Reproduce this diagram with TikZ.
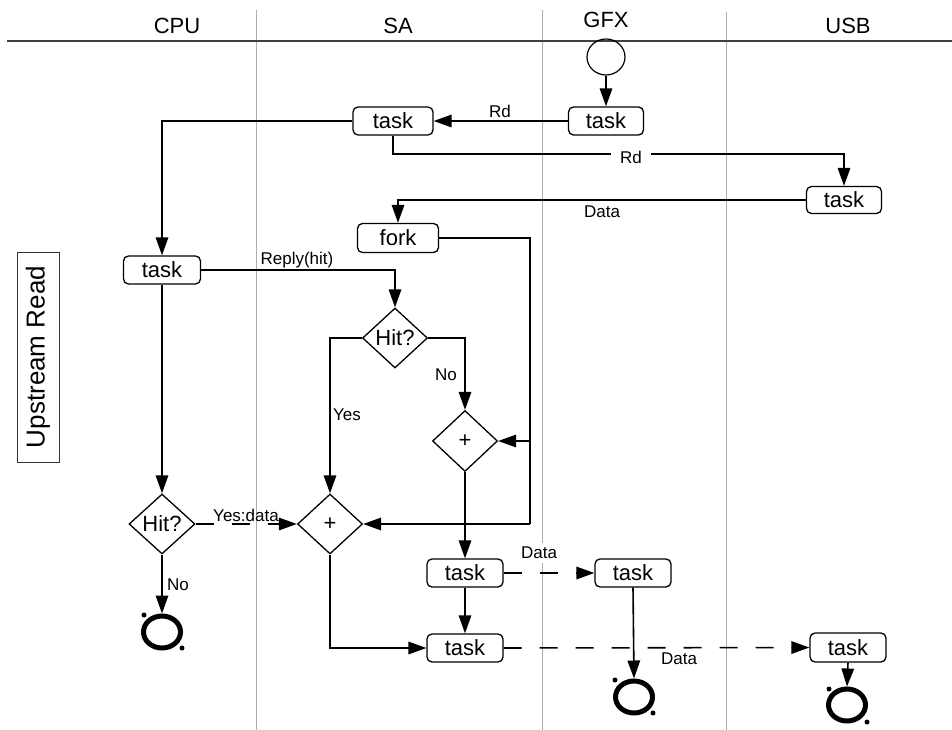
\documentclass[tikz,border=0pt]{standalone}
\usepackage{fontspec}
\setmainfont{Liberation Sans}
\usetikzlibrary{arrows.meta,shapes.geometric}
\begin{document}
\begin{tikzpicture}[x=1pt,y=-1pt,
 taskbox/.style={draw,fill=white,rounded corners=5pt,line width=1.3pt,minimum width=76pt,minimum height=28pt,inner sep=0pt,font=\fontsize{22}{22}\selectfont},
 dia/.style={draw,fill=white,diamond,line width=1.3pt,minimum width=65pt,minimum height=60pt,inner sep=0pt},
 endc/.style={draw,ellipse,line width=5pt,minimum width=37pt,minimum height=32pt,inner sep=0pt},
 conn/.style={line width=1.6pt,-{Triangle[length=18pt,width=12.5pt]}},
 plainline/.style={line width=1.6pt},
 dashline/.style={dash pattern=on 18pt off 18pt},
 lbl/.style={font=\fontsize{17}{17}\selectfont,inner sep=1pt},
 lane/.style={draw=gray!65,line width=0.8pt},
 hdr/.style={font=\fontsize{22}{22}\selectfont},
 dot/.style={fill=black,circle,inner sep=0pt,minimum size=5pt}
]
\useasboundingbox (0,0) rectangle (952,730);
\fill[white] (0,0) rectangle (952,730);
% lanes and header
\draw[lane] (256,10) -- (256,730);
\draw[lane] (542,10) -- (542,730);
\draw[lane] (726,12) -- (726,730);
\draw[draw=black!75,line width=1.3pt] (7,41) -- (952,41);
\node[hdr] (hcpu) at (177,26) {CPU};
\node[hdr] (hsa) at (398,26) {SA};
\node[hdr] (hgfx) at (606,20) {GFX};
\node[hdr] (husb) at (848,26) {USB};
% side label
\node[draw=black!80,line width=0.9pt,minimum width=42pt,minimum height=210pt,inner sep=0pt] (side) at (38,357) {};
\node[rotate=90,font=\fontsize{26}{26}\selectfont] (sidetxt) at (38,357) {Upstream Read};
% nodes
\node[draw,ellipse,line width=1.2pt,minimum width=38pt,minimum height=36pt,inner sep=0pt] (start) at (606,57) {};
\node[taskbox,minimum width=75pt] (gt1) at (606,121) {task};
\node[taskbox,minimum width=80pt] (st1) at (393,121) {task};
\node[taskbox,minimum width=75pt,minimum height=27pt] (ut1) at (844,200) {task};
\node[taskbox,minimum width=81pt,minimum height=29pt] (fork) at (398,238) {fork};
\node[taskbox,minimum width=77pt] (ct) at (162,270) {task};
\node[dia,font=\fontsize{22}{22}\selectfont] (shit) at (395,338) {Hit?};
\node[dia,font=\fontsize{22}{22}\selectfont,minimum height=61pt] (p1) at (465,441) {+};
\node[dia,font=\fontsize{22}{22}\selectfont] (p2) at (330,524) {+};
\node[dia,font=\fontsize{22}{22}\selectfont,minimum width=66pt] (chit) at (162,524) {Hit?};
\node[taskbox] (st3) at (465,573) {task};
\node[taskbox] (st4) at (465,648) {task};
\node[taskbox] (gt2) at (633,573) {task};
\node[taskbox,minimum height=29pt] (ut2) at (848,647.5) {task};
\node[endc] (ce) at (162,632) {};
\node[endc] (ge) at (634,697) {};
\node[endc] (ue) at (847,705) {};
\node[dot] at (144,615) {};
\node[dot] at (182,648) {};
\node[dot] at (615,680) {};
\node[dot] at (653,713) {};
\node[dot] at (829,689) {};
\node[dot] at (867,722) {};
% connectors
\draw[conn] (start) -- (gt1);
\draw[conn] (gt1) -- (st1);
\node[lbl] (lrd1) at (500,111) {Rd};
\draw[conn] (st1.south) |- (630,154) -| (ut1.north);
\node[lbl,fill=white,inner xsep=9pt] (lrd2) at (631,157) {Rd};
\draw[conn] (st1.west) -| (ct.north);
\draw[conn] (ut1.west) -| (fork.north);
\node[lbl] (ldata1) at (602,212) {Data};
\draw[plainline] (fork.east) -| (530,441);
\draw[conn] (530,441) -- (p1.east);
\draw[plainline] (530,441) -- (530,524);
\draw[conn] (530,524) -- (p2.east);
\draw[conn] (ct.east) -| (shit.north);
\node[lbl] (lreply) at (297,260) {Reply(hit)};
\draw[conn] (shit.west) -| (p2.north);
\node[lbl] (lyes) at (347,415) {Yes};
\draw[conn] (shit.east) -| (p1.north);
\node[lbl] (lno1) at (446,375) {No};
\draw[conn] (p1.south) -- (st3.north);
\draw[conn] (st3.south) -- (st4.north);
\draw[conn] (p2.south) |- (st4.west);
\draw[conn] (ct.south) -- (chit.north);
\draw[conn,dashline] (chit.east) -- (p2.west);
\node[lbl] (lyd) at (246,515) {Yes:data};
\draw[conn] (chit.south) -- (ce.north);
\node[lbl] (lno2) at (178,585) {No};
\draw[conn,dashline] (st3.east) -- (gt2.west);
\node[lbl,fill=white,inner sep=4pt] (ldata2) at (539,553) {Data};
\draw[conn,dashline] (st4.east) -- (ut2.west);
\node[lbl] (ldata3) at (679,659) {Data};
\draw[conn] (gt2.south) -- (ge.north);
\draw[conn] (ut2.south) -- (ue.north);
\end{tikzpicture}
\end{document}
